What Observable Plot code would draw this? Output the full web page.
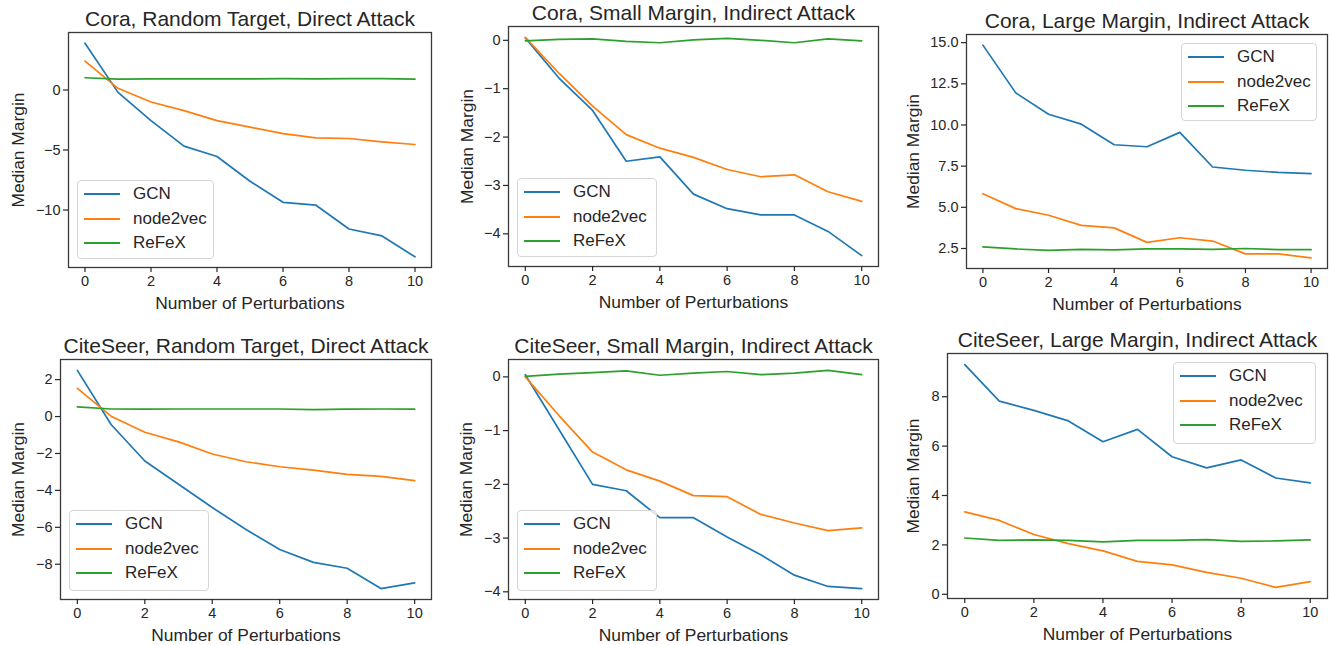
<!DOCTYPE html>
<html>
<head>
<meta charset="utf-8">
<script src="https://cdn.jsdelivr.net/npm/d3@7"></script>
<script src="https://cdn.jsdelivr.net/npm/@observablehq/plot@0.6"></script>
<style>
  html, body { margin: 0; padding: 0; background: #fff; }
  #root { position: relative; width: 1330px; height: 645px; overflow: hidden; font-family: "Liberation Sans", Arial, sans-serif; color: #262626; }
  .panel { position: absolute; }
  .legend { position: absolute; box-sizing: border-box; border: 1px solid #d6d6d6; border-radius: 4px; background: rgba(255,255,255,0.8); }
  .legend .ln { position: absolute; left: 6px; width: 36px; height: 2px; }
  .legend .lt { position: absolute; left: 55px; height: 20px; line-height: 20px; font-size: 17px; color: #262626; white-space: nowrap; }
</style>
</head>
<body>
<div id="root"></div>
<script>
// ---- data ----
const perturbations = [0, 1, 2, 3, 4, 5, 6, 7, 8, 9, 10];
const seriesNames = ["GCN", "node2vec", "ReFeX"];
const seriesColors = ["#1f77b4", "#ff7f0e", "#2ca02c"];
const xTicks = [0, 2, 4, 6, 8, 10];

const titles = [
  "Cora, Random Target, Direct Attack",
  "Cora, Small Margin, Indirect Attack",
  "Cora, Large Margin, Indirect Attack",
  "CiteSeer, Random Target, Direct Attack",
  "CiteSeer, Small Margin, Indirect Attack",
  "CiteSeer, Large Margin, Indirect Attack"
];

const coraRandomGCN   = [3.9, -0.2, -2.55, -4.68, -5.54, -7.6, -9.36, -9.6, -11.58, -12.16, -13.9];
const coraRandomN2V   = [2.41, 0.14, -1.0, -1.72, -2.55, -3.1, -3.63, -3.99, -4.04, -4.32, -4.54];
const coraRandomReFeX = [1.02, 0.91, 0.92, 0.93, 0.92, 0.93, 0.95, 0.93, 0.94, 0.94, 0.91];

const coraSmallGCN   = [0.05, -0.78, -1.45, -2.5, -2.41, -3.18, -3.48, -3.61, -3.61, -3.95, -4.45];
const coraSmallN2V   = [0.06, -0.68, -1.36, -1.95, -2.23, -2.42, -2.67, -2.82, -2.78, -3.13, -3.33];
const coraSmallReFeX = [-0.01, 0.02, 0.03, -0.02, -0.05, 0.01, 0.04, 0.0, -0.05, 0.03, -0.01];

const coraLargeGCN   = [14.85, 11.95, 10.65, 10.05, 8.8, 8.68, 9.55, 7.45, 7.25, 7.12, 7.05];
const coraLargeN2V   = [5.83, 4.92, 4.52, 3.9, 3.75, 2.87, 3.15, 2.95, 2.17, 2.17, 1.93];
const coraLargeReFeX = [2.6, 2.47, 2.38, 2.45, 2.41, 2.47, 2.47, 2.45, 2.5, 2.43, 2.43];

const citeRandomGCN   = [2.5, -0.43, -2.41, -3.67, -4.93, -6.12, -7.2, -7.9, -8.22, -9.32, -9.01];
const citeRandomN2V   = [1.53, 0.02, -0.85, -1.37, -2.03, -2.45, -2.72, -2.9, -3.13, -3.24, -3.47];
const citeRandomReFeX = [0.52, 0.41, 0.4, 0.41, 0.41, 0.41, 0.41, 0.38, 0.4, 0.41, 0.4];

const citeSmallGCN   = [0.04, -0.98, -2.0, -2.12, -2.62, -2.62, -2.98, -3.31, -3.69, -3.9, -3.94];
const citeSmallN2V   = [0.0, -0.72, -1.4, -1.73, -1.94, -2.21, -2.23, -2.56, -2.72, -2.86, -2.81];
const citeSmallReFeX = [0.01, 0.05, 0.08, 0.11, 0.03, 0.07, 0.1, 0.04, 0.07, 0.12, 0.04];

const citeLargeGCN   = [9.3, 7.82, 7.45, 7.02, 6.18, 6.68, 5.57, 5.12, 5.44, 4.71, 4.51];
const citeLargeN2V   = [3.34, 2.99, 2.42, 2.05, 1.76, 1.33, 1.19, 0.89, 0.65, 0.28, 0.51];
const citeLargeReFeX = [2.28, 2.18, 2.2, 2.18, 2.12, 2.18, 2.18, 2.21, 2.14, 2.16, 2.2];

const yTicks = [
  [-10, -5, 0],
  [-4, -3, -2, -1, 0],
  [2.5, 5, 7.5, 10, 12.5, 15],
  [-8, -6, -4, -2, 0, 2],
  [-4, -3, -2, -1, 0],
  [0, 2, 4, 6, 8]
];

// ---- layout (pixels) ----
const panelSeries = [
  [coraRandomGCN, coraRandomN2V, coraRandomReFeX],
  [coraSmallGCN, coraSmallN2V, coraSmallReFeX],
  [coraLargeGCN, coraLargeN2V, coraLargeReFeX],
  [citeRandomGCN, citeRandomN2V, citeRandomReFeX],
  [citeSmallGCN, citeSmallN2V, citeSmallReFeX],
  [citeLargeGCN, citeLargeN2V, citeLargeReFeX]
];
const frames = [ // [left, top, right, bottom]
  [68, 32, 431, 267],
  [508, 26, 878, 266],
  [966, 34, 1327, 268],
  [60, 359, 431, 599],
  [508, 359, 878, 599],
  [947, 353, 1327, 598]
];
const origins = [[0, 0], [440, 0], [885, 0], [0, 322], [440, 322], [885, 322]];
const yLabelOffsets = [50, 41, 53, 42, 42, 34];
const intFmt = v => (v < 0 ? "\u2212" : "") + Math.abs(v);
const yFormats = [intFmt, intFmt, d3.format(".1f"), intFmt, intFmt, intFmt];
const legends = [ // [left, top, width, height]
  [77, 180, 137, 79],
  [517, 178, 140, 79],
  [1181, 43, 136, 78],
  [69, 510, 140, 81],
  [517, 510, 140, 81],
  [1173, 362, 143, 82]
];

const root = document.getElementById("root");
const FONT = "'Liberation Sans', Arial, sans-serif";
const INK = "#262626";

panelSeries.forEach((series, p) => {
  const [L, T, R, B] = frames[p];
  const [ox, oy] = origins[p];
  const rows = [];
  series.forEach((vals, s) => {
    vals.forEach((v, i) => rows.push({x: perturbations[i], y: v, series: seriesNames[s]}));
  });
  const [ymin, ymax] = d3.extent(rows, d => d.y);
  const pad = (ymax - ymin) * 0.05;
  const mr = 3, mb = 48;
  const plot = Plot.plot({
    width: R + mr - ox,
    height: B + mb - oy,
    marginLeft: L - ox,
    marginTop: T - oy,
    marginRight: mr,
    marginBottom: mb,
    style: {background: "transparent", overflow: "visible", fontFamily: FONT, color: INK},
    x: {domain: [-0.5, 10.5], label: null},
    y: {domain: [ymin - pad, ymax + pad], label: null},
    color: {domain: seriesNames, range: seriesColors},
    marks: [
      Plot.lineY(rows, {x: "x", y: "y", z: "series", stroke: "series", strokeWidth: 1.7}),
      Plot.frame({stroke: "#3a3a3a", strokeWidth: 1.3}),
      Plot.axisX({ticks: xTicks, tickSize: 5, tickPadding: 3, fontSize: 14.5, label: null, stroke: INK, strokeWidth: 1.2, tickFormat: intFmt}),
      Plot.axisY({ticks: yTicks[p], tickSize: 5, tickPadding: 3, fontSize: 14.5, label: null, stroke: INK, strokeWidth: 1.2, tickFormat: yFormats[p]}),
      Plot.text([titles[p]], {frameAnchor: "top", lineAnchor: "bottom", textAnchor: "middle", dy: -6.5, fontSize: 21, fill: INK}),
      Plot.text(["Number of Perturbations"], {frameAnchor: "bottom", lineAnchor: "middle", textAnchor: "middle", dy: 36, fontSize: 17.4, fill: INK}),
      Plot.text(["Median Margin"], {frameAnchor: "left", lineAnchor: "middle", textAnchor: "middle", rotate: -90, dx: -yLabelOffsets[p], fontSize: 17.4, fill: INK})
    ]
  });
  plot.classList.add("panel");
  plot.style.left = ox + "px";
  plot.style.top = oy + "px";
  plot.style.maxWidth = "none";
  root.appendChild(plot);

  // legend
  const [lx, ly, lw, lh] = legends[p];
  const lg = document.createElement("div");
  lg.className = "legend";
  lg.style.left = lx + "px";
  lg.style.top = ly + "px";
  lg.style.width = lw + "px";
  lg.style.height = lh + "px";
  seriesNames.forEach((name, i) => {
    const cy = Math.round(13.3 + 24.5 * i);
    const ln = document.createElement("div");
    ln.className = "ln";
    ln.style.top = (cy - 1) + "px";
    ln.style.background = seriesColors[i];
    const lt = document.createElement("div");
    lt.className = "lt";
    lt.style.top = (cy - 10) + "px";
    lt.textContent = name;
    lg.appendChild(ln);
    lg.appendChild(lt);
  });
  root.appendChild(lg);
});
</script>
</body>
</html>
